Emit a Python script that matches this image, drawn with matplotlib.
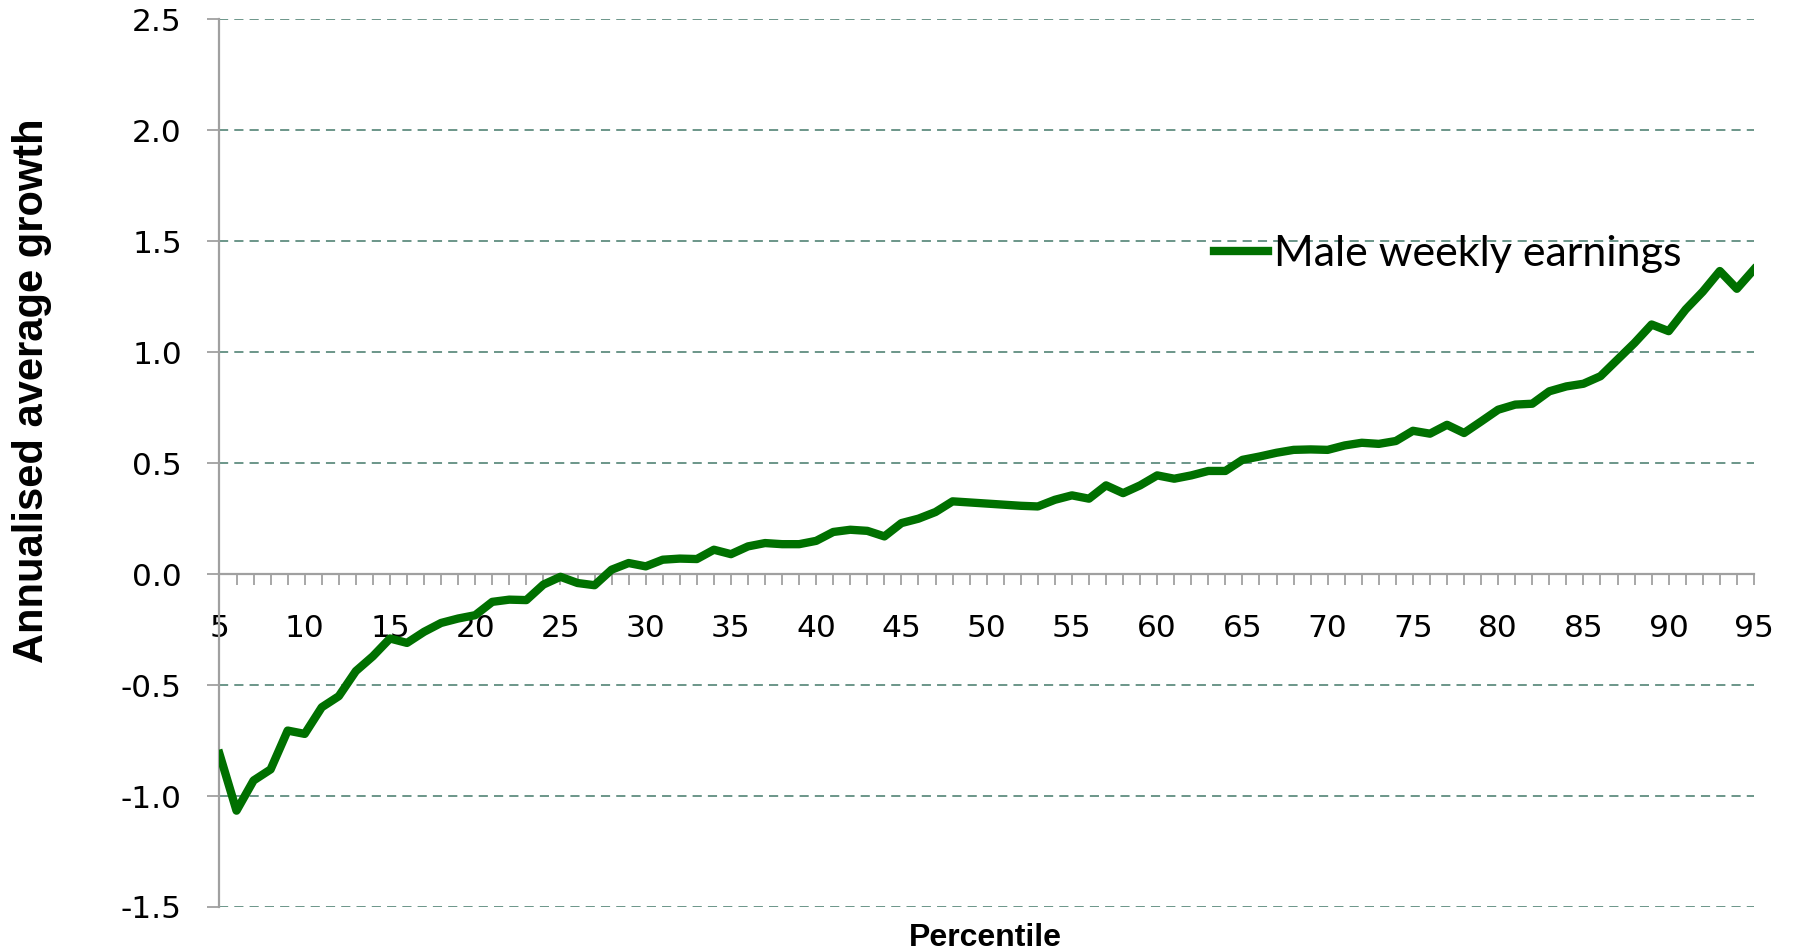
import matplotlib
matplotlib.use("Agg")
import matplotlib.pyplot as plt
from matplotlib.ticker import MultipleLocator, FixedLocator


percentiles = list( range(5, 96) )

growth = [ -0.81, -1.066, -0.93, -0.88, -0.705, -0.72, -0.60, -0.55, -0.437, -0.37,
           -0.29, -0.31, -0.26, -0.22, -0.20, -0.185, -0.125, -0.115, -0.117, -0.047,
           -0.012, -0.04, -0.05, 0.02, 0.05, 0.035, 0.065, 0.07, 0.068, 0.11,
           0.09, 0.125, 0.14, 0.135, 0.135, 0.15, 0.19, 0.20, 0.195, 0.17,
           0.23, 0.25, 0.28, 0.328, 0.323, 0.318, 0.313, 0.308, 0.305, 0.335,
           0.355, 0.34, 0.40, 0.365, 0.40, 0.445, 0.43, 0.445, 0.465, 0.465,
           0.515, 0.53, 0.547, 0.56, 0.562, 0.56, 0.58, 0.592, 0.587, 0.60,
           0.646, 0.633, 0.673, 0.636, 0.688, 0.741, 0.764, 0.768, 0.824, 0.846,
           0.858, 0.892, 0.967, 1.042, 1.125, 1.095, 1.193, 1.273, 1.366, 1.286,
           1.373 ]

yTicks      = [ -1.5, -1.0, -0.5, 0.0, 0.5, 1.0, 1.5, 2.0, 2.5 ]
xTickLabels = list( range(5, 96, 5) )

seriesName = "Male weekly earnings"
yTitle     = "Annualised average growth"
xTitle     = "Percentile"

lineColor = "#007000"
gridColor = "#44796a"
axisColor = "#a0a0a0"


def plotGrowth():
    """Line chart of annualised growth by percentile."""

    fig = plt.figure( figsize = (17.93, 9.51), dpi = 100 )
    ax  = fig.add_axes( [0.1224, 0.0463, 0.8558, 0.9333] )

    ax.plot( percentiles, growth, "-", color = lineColor, linewidth = 6,
             solid_joinstyle = "round", zorder = 3, label = seriesName )

    ax.set_xlim( 5, 95 )
    ax.set_ylim( -1.5, 2.5 )

    ax.spines["top"].set_visible( False )
    ax.spines["right"].set_visible( False )
    ax.spines["bottom"].set_position( ("data", 0) )
    for s in ["left", "bottom"]:
        ax.spines[s].set_color( axisColor )
        ax.spines[s].set_linewidth( 1.6 )
        ax.spines[s].set_zorder( 2.5 )

    ax.yaxis.set_major_locator( FixedLocator(yTicks) )
    ax.set_yticklabels( ["%.1f" % v for v in yTicks] )
    ax.xaxis.set_major_locator( FixedLocator(xTickLabels) )
    ax.xaxis.set_minor_locator( MultipleLocator(1) )

    ax.tick_params( axis = "y", which = "major", direction = "out", length = 9,
                    width = 1.3, color = axisColor, pad = 18, labelsize = 22.5 )
    ax.tick_params( axis = "x", which = "both", direction = "out", length = 8,
                    width = 1.3, color = axisColor, pad = 21, labelsize = 22.5 )

    ax.yaxis.grid( True, color = gridColor, linestyle = (0, (6, 4)), linewidth = 1.1 )
    ax.set_axisbelow( True )

    ax.legend( loc = "center left", bbox_to_anchor = (0.648, 0.7357), frameon = False,
               borderpad = 0, borderaxespad = 0, handlelength = 1.25,
               handletextpad = 0.15, prop = {"family": "Lato", "size": 31} )

    fig.text( 32 / 1793, 0.589, yTitle, rotation = 90, ha = "center", va = "center",
              fontsize = 30, fontweight = "bold", family = "Liberation Sans" )
    fig.text( 0.5497, 0.014, xTitle, ha = "center", va = "center",
              fontsize = 23, fontweight = "bold", family = "Liberation Sans" )

    fig.savefig( "out.png", dpi = 100 )


plotGrowth()
